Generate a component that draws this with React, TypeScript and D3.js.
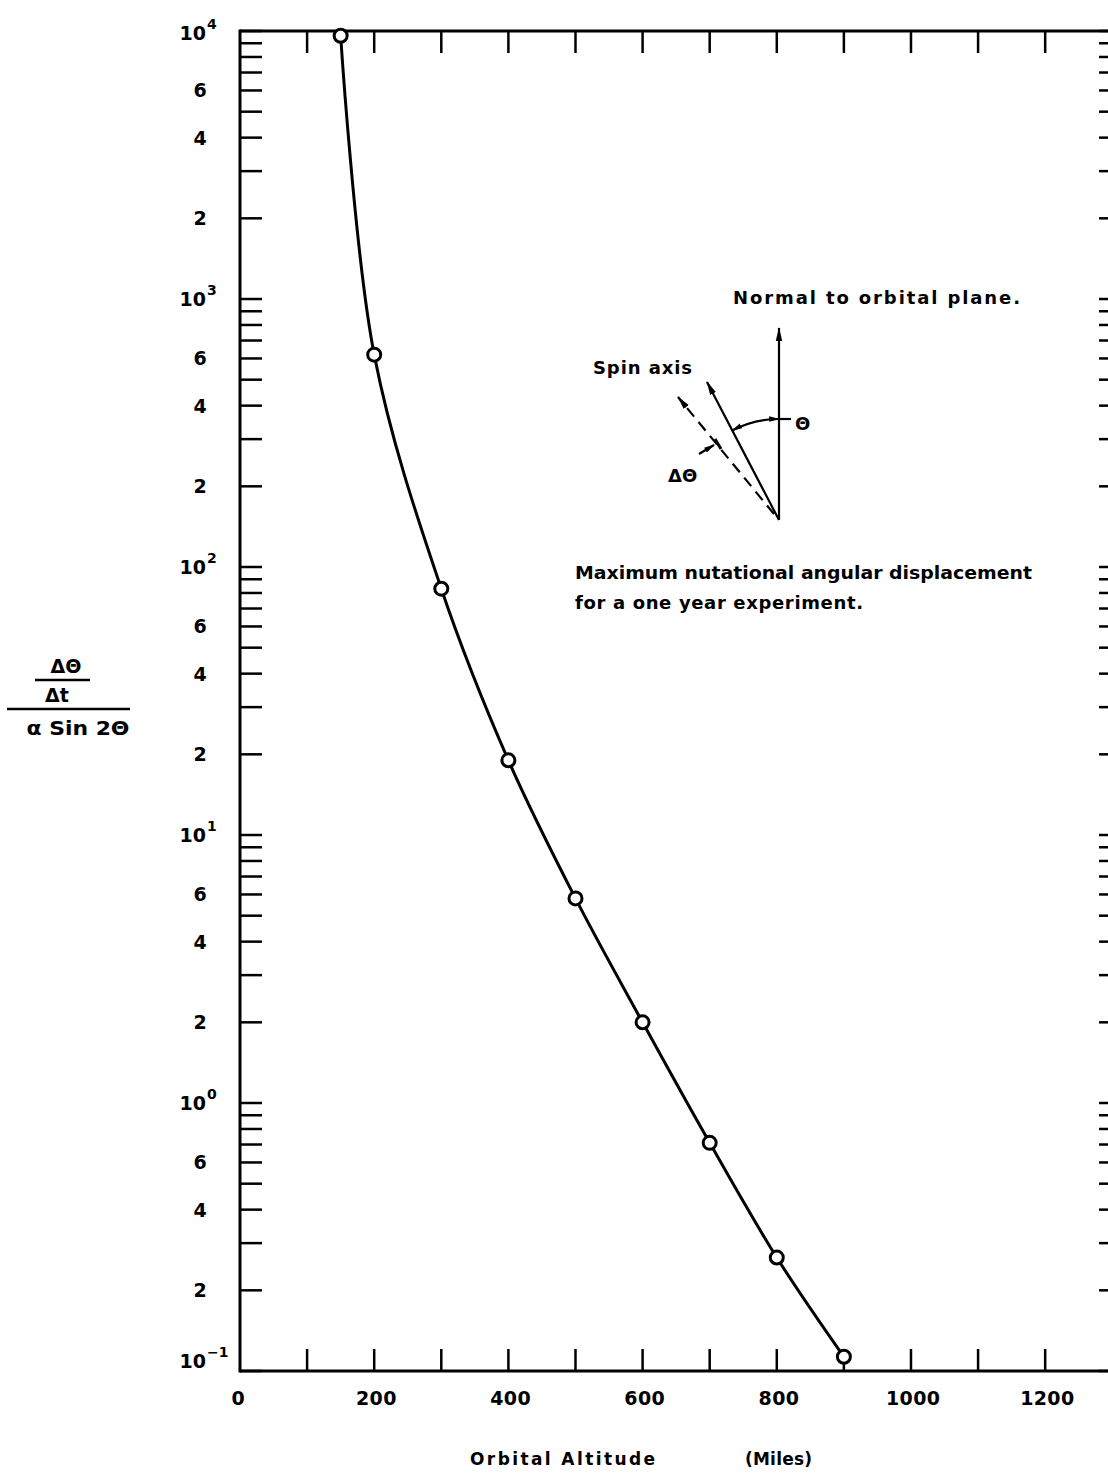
import React from "react";
import * as d3 from "d3";

// Orbital altitude (miles) vs. normalised nutation rate
const altitude = [150, 200, 300, 400, 500, 600, 700, 800, 900];
const rateRatio = [9600, 620, 83, 19, 5.8, 2.0, 0.71, 0.265, 0.113];

const xTickValues = [100, 200, 300, 400, 500, 600, 700, 800, 900, 1000, 1100, 1200];
const xLabelValues = [0, 200, 400, 600, 800, 1000, 1200];
const decades = [-1, 0, 1, 2, 3, 4];
const minorMultipliers = [2, 3, 4, 5, 6, 7, 8, 9];
const labelledMultipliers = [2, 4, 6];

const W = 1108;
const H = 1473;
const FONT = "'DejaVu Sans', 'Liberation Sans', Arial, sans-serif";

export default function App() {
  const x = d3.scaleLinear().domain([0, 1313]).range([240, 1121]);
  const y = d3.scaleLog().domain([0.1, 1e4]).range([1371, 31]);
  const x0 = x(0);
  const x1 = x(1313);
  const yTop = y(1e4);
  const yBot = y(0.1);
  const tickLen = 22;

  const yTicks: number[] = [];
  decades.forEach((d) => {
    yTicks.push(Math.pow(10, d));
    if (d < 4) minorMultipliers.forEach((m) => yTicks.push(m * Math.pow(10, d)));
  });

  const pts = altitude.map((a, i) => [x(a), y(rateRatio[i])] as [number, number]);
  const line = d3.line().curve(d3.curveCatmullRom.alpha(0.5))(pts) || "";

  // Inset vector diagram: origin where the vectors meet
  const O = { x: 779, y: 520 };
  const normalTip = { x: 779, y: 328 };
  const spinTip = { x: 707, y: 382 };
  const dashStart = { x: 774, y: 514 };
  const dashTip = { x: 678, y: 397 };
  const arcR = 101;
  const spinDir = Math.atan2(spinTip.y - O.y, spinTip.x - O.x);
  const arcStart = { x: O.x + arcR * Math.cos(spinDir), y: O.y + arcR * Math.sin(spinDir) };
  const arcEnd = { x: O.x, y: O.y - arcR };

  return (
    <svg
      width={W}
      height={H}
      viewBox={`0 0 ${W} ${H}`}
      style={{ position: "absolute", left: 0, top: 0, background: "#fff" }}
      fontFamily={FONT}
    >
      <defs>
        <marker id="arr" viewBox="0 0 14 10" refX="13" refY="5" markerWidth="14" markerHeight="10" orient="auto-start-reverse" markerUnits="userSpaceOnUse">
          <path d="M0,1.8 L14,5 L0,8.2 Z" fill="#000" />
        </marker>
        <marker id="arrS" viewBox="0 0 12 10" refX="11" refY="5" markerWidth="11" markerHeight="9" orient="auto-start-reverse" markerUnits="userSpaceOnUse">
          <path d="M0,2 L12,5 L0,8 Z" fill="#000" />
        </marker>
      </defs>
      <rect x={0} y={0} width={W} height={H} fill="#fff" />

      {/* frame */}
      <g stroke="#000" strokeWidth={3} fill="none">
        <line x1={x0} y1={yTop} x2={x1} y2={yTop} />
        <line x1={x0} y1={yBot} x2={x1} y2={yBot} />
        <line x1={x0} y1={yTop - 1.5} x2={x0} y2={yBot + 1.5} />
        <line x1={x1} y1={yTop} x2={x1} y2={yBot} />
      </g>

      {/* x ticks, top and bottom */}
      <g stroke="#000" strokeWidth={2.5}>
        {xTickValues.map((v) => (
          <g key={v}>
            <line x1={x(v)} x2={x(v)} y1={yTop} y2={yTop + tickLen} />
            <line x1={x(v)} x2={x(v)} y1={yBot} y2={yBot - tickLen} />
          </g>
        ))}
      </g>

      {/* y ticks, left and right */}
      <g stroke="#000" strokeWidth={2.5}>
        {yTicks.map((v, i) => (
          <g key={i}>
            <line x1={x0} x2={x0 + tickLen} y1={y(v)} y2={y(v)} />
            <line x1={x1} x2={x1 - tickLen} y1={y(v)} y2={y(v)} />
          </g>
        ))}
      </g>

      {/* x tick labels */}
      <g fontSize={19} fontWeight="bold" textAnchor="middle">
        {xLabelValues.map((v) => {
          const s = String(v);
          return (
            <text key={v} x={x(v) + (v === 0 ? -2 : 2)} y={1405} textLength={s.length * 13.5} lengthAdjust="spacing">
              {s}
            </text>
          );
        })}
      </g>

      {/* y tick labels */}
      <g fontSize={19} fontWeight="bold">
        {decades.map((d) => {
          const yy = y(Math.pow(10, d));
          const base = d === 4 ? yy + 9 : d === -1 ? yy - 3 : yy + 7;
          return (
            <g key={d}>
              <text x={206} y={base} textAnchor="end">10</text>
              <text x={207} y={base - 11} fontSize={14}>{String(d).replace("-", "\u2212")}</text>
            </g>
          );
        })}
        {decades
          .filter((d) => d < 4)
          .flatMap((d) =>
            labelledMultipliers.map((m) => (
              <text key={`${d}-${m}`} x={200} y={y(m * Math.pow(10, d)) + 7} textAnchor="middle">
                {m}
              </text>
            ))
          )}
      </g>

      {/* y axis title as a fraction */}
      <g fontSize={19} fontWeight="bold" textAnchor="middle">
        <text x={66} y={673}>ΔΘ</text>
        <line x1={35} x2={90} y1={680} y2={680} stroke="#000" strokeWidth={2.5} />
        <text x={57} y={702}>Δt</text>
        <line x1={7} x2={130} y1={709} y2={709} stroke="#000" strokeWidth={2.5} />
        <text x={78} y={735} textLength={103} lengthAdjust="spacingAndGlyphs">α Sin 2Θ</text>
      </g>

      {/* x axis title */}
      <g fontSize={17} fontWeight="bold">
        <text x={470} y={1465} textLength={185} lengthAdjust="spacing">Orbital Altitude</text>
        <text x={745} y={1465} textLength={67} lengthAdjust="spacing">(Miles)</text>
      </g>

      {/* curve and points */}
      <path d={line} fill="none" stroke="#000" strokeWidth={3} />
      {pts.map((p, i) => (
        <circle key={i} cx={p[0]} cy={p[1]} r={6.5} fill="#fff" stroke="#000" strokeWidth={3} />
      ))}

      {/* inset diagram */}
      <g stroke="#000" strokeWidth={2.2} fill="none">
        <line x1={O.x} y1={O.y} x2={normalTip.x} y2={normalTip.y} markerEnd="url(#arr)" />
        <line x1={O.x} y1={O.y} x2={spinTip.x} y2={spinTip.y} markerEnd="url(#arr)" />
        <line x1={dashStart.x} y1={dashStart.y} x2={dashTip.x} y2={dashTip.y} strokeDasharray="11 7" markerEnd="url(#arr)" />
        <path
          d={`M${arcStart.x},${arcStart.y} A${arcR},${arcR} 0 0 1 ${arcEnd.x},${arcEnd.y}`}
          markerStart="url(#arrS)"
          markerEnd="url(#arrS)"
        />
        <line x1={arcEnd.x} y1={arcEnd.y} x2={arcEnd.x + 12} y2={arcEnd.y} />
        <line x1={699} y1={454} x2={714} y2={445} markerEnd="url(#arrS)" />
        <line x1={715} y1={439} x2={721} y2={449} strokeWidth={3} />
      </g>
      <g fontSize={18} fontWeight="bold">
        <text x={733} y={304} textLength={287} lengthAdjust="spacing">Normal to orbital plane.</text>
        <text x={593} y={374} textLength={99} lengthAdjust="spacing">Spin axis</text>
        <text x={795} y={430}>Θ</text>
        <text x={668} y={482}>ΔΘ</text>
        <text x={575} y={579} textLength={457} lengthAdjust="spacingAndGlyphs">Maximum nutational angular  displacement</text>
        <text x={575} y={609} textLength={288} lengthAdjust="spacing">for a one year experiment.</text>
      </g>
    </svg>
  );
}
